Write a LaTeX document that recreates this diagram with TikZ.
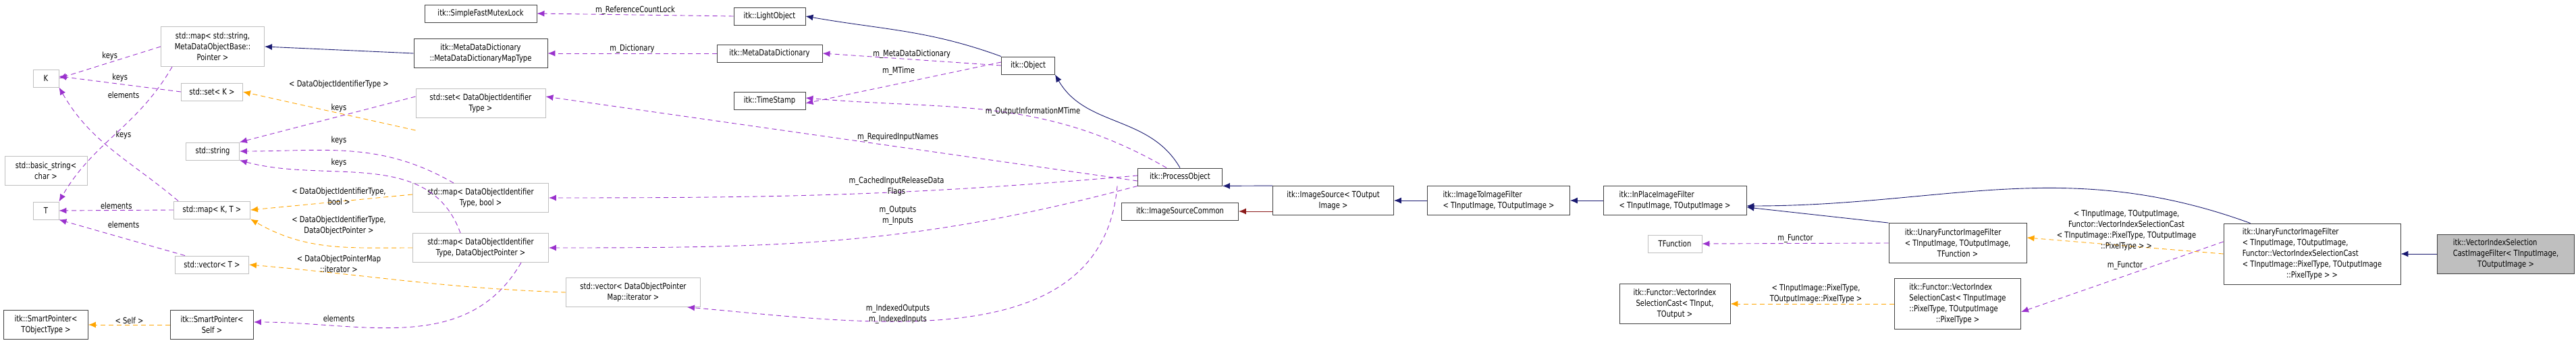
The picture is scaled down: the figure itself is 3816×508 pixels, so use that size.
\documentclass[tikz,border=0pt]{standalone}
\usepackage{fontspec}
\setmainfont{DejaVu Sans}[FakeStretch=0.80]
\usetikzlibrary{arrows.meta,positioning}
\definecolor{edgepurple}{RGB}{154,50,205}
\definecolor{edgeorange}{RGB}{255,165,0}
\definecolor{edgenavy}{RGB}{25,25,112}
\definecolor{edgered}{RGB}{139,26,26}
\definecolor{boxgrey}{RGB}{191,191,191}
\tikzset{
    cls/.style={draw=black!75, line width=0.9pt, fill=white, align=center, inner sep=2pt,
        font=\fontsize{12.5}{16}\selectfont},
    ext/.style={cls, draw=boxgrey},
    me/.style={cls, fill=boxgrey},
    lbl/.style={align=center, inner sep=0pt, font=\fontsize{12.5}{16}\selectfont},
    usage/.style={draw=edgepurple, dashed, dash pattern=on 7pt off 5pt, line width=0.9pt, -{Latex[length=11pt,width=9pt]}},
    templ/.style={draw=edgeorange, dashed, dash pattern=on 7pt off 5pt, line width=0.9pt, -{Latex[length=11pt,width=9pt]}},
    inherit/.style={draw=edgenavy, line width=0.9pt, -{Latex[length=11pt,width=9pt]}},
    privinh/.style={draw=edgered, line width=0.9pt, -{Latex[length=11pt,width=9pt]}}
}
\begin{document}
\begin{tikzpicture}[x=1pt, y=-1pt]
    \useasboundingbox (0,0) rectangle (3816,508);

    % left column
    \node[ext, minimum width=38, minimum height=26] (K) at (68,116) {K};
    \node[ext, minimum width=122, minimum height=43] (bstr) at (68,253) {std::basic\_string<\\char >};
    \node[ext, minimum width=38, minimum height=26] (T) at (68,312) {T};
    \node[cls, minimum width=125, minimum height=43] (spobj) at (68,481) {itk::SmartPointer<\\TObjectType >};

    % std containers
    \node[ext, minimum width=153, minimum height=59] (mapstr) at (315,69) {std::map< std::string,\\MetaDataObjectBase::\\Pointer >};
    \node[ext, minimum width=91, minimum height=26] (setK) at (314,136) {std::set< K >};
    \node[ext, minimum width=79, minimum height=26] (str) at (315,224) {std::string};
    \node[ext, minimum width=113, minimum height=26] (mapKT) at (314,311) {std::map< K, T >};
    \node[ext, minimum width=109, minimum height=26] (vecT) at (314,392) {std::vector< T >};
    \node[cls, minimum width=123, minimum height=43] (spself) at (314,481) {itk::SmartPointer<\\Self >};

    % instantiated containers
    \node[cls, minimum width=166, minimum height=26] (mutex) at (712,20) {itk::SimpleFastMutexLock};
    \node[cls, minimum width=198, minimum height=43] (dictmap) at (712,79) {itk::MetaDataDictionary\\::MetaDataDictionaryMapType};
    \node[ext, minimum width=192, minimum height=43] (setid) at (712,153) {std::set< DataObjectIdentifier\\Type >};
    \node[ext, minimum width=201, minimum height=43] (mapbool) at (712,293) {std::map< DataObjectIdentifier\\Type, bool >};
    \node[ext, minimum width=201, minimum height=43] (mapptr) at (712,367) {std::map< DataObjectIdentifier\\Type, DataObjectPointer >};
    \node[ext, minimum width=199, minimum height=43] (veciter) at (938,433) {std::vector< DataObjectPointer\\Map::iterator >};

    % itk core
    \node[cls, minimum width=106, minimum height=26] (light) at (1140,24) {itk::LightObject};
    \node[cls, minimum width=156, minimum height=26] (dict) at (1140,79) {itk::MetaDataDictionary};
    \node[cls, minimum width=106, minimum height=26] (stamp) at (1140,149) {itk::TimeStamp};
    \node[cls, minimum width=79, minimum height=26] (object) at (1523,97) {itk::Object};
    \node[cls, minimum width=125, minimum height=26] (process) at (1748,262) {itk::ProcessObject};
    \node[cls, minimum width=173, minimum height=26] (common) at (1748,313) {itk::ImageSourceCommon};

    % filter chain
    \node[cls, minimum width=179, minimum height=43] (source) at (1975,297) {itk::ImageSource< TOutput\\Image >};
    \node[cls, minimum width=211, minimum height=43, align=left] (i2i) at (2220,297) {itk::ImageToImageFilter\\< TInputImage, TOutputImage >};
    \node[cls, minimum width=212, minimum height=43, align=left] (inplace) at (2481,297) {itk::InPlaceImageFilter\\< TInputImage, TOutputImage >};
    \node[ext, minimum width=80, minimum height=26] (tfunc) at (2481,361) {TFunction};
    \node[cls, minimum width=164, minimum height=59] (castio) at (2481,450) {itk::Functor::VectorIndex\\SelectionCast< TInput,\\TOutput >};
    \node[cls, minimum width=204, minimum height=59, align=left] (unary) at (2900,360) {itk::UnaryFunctorImageFilter\\< TInputImage, TOutputImage,\\\hfil TFunction >};
    \node[cls, minimum width=187, minimum height=75, align=left] (castpx) at (2900,450) {itk::Functor::VectorIndex\\SelectionCast< TInputImage\\::PixelType, TOutputImage\\\hfil ::PixelType >};
    \node[cls, minimum width=262, minimum height=90, align=left] (unarycast) at (3425,376) {itk::UnaryFunctorImageFilter\\< TInputImage, TOutputImage,\\Functor::VectorIndexSelectionCast\\< TInputImage::PixelType, TOutputImage\\\hfil ::PixelType > >};
    \node[me, minimum width=203, minimum height=58, align=left] (visc) at (3712,376) {itk::VectorIndexSelection\\CastImageFilter< TInputImage,\\\hfil TOutputImage >};

    % inheritance
    \draw[inherit] (dictmap.west) -- (mapstr.east);
    \draw[inherit] (object.north west) to[out=160, in=-10] (light.east);
    \draw[inherit] (process.north) to[out=120, in=-60] (object.south east);
    \draw[inherit] (source.north west) -- (process.south east);
    \draw[privinh] (source.west |- common.east) -- (common.east);
    \draw[inherit] (i2i.west) -- (source.east);
    \draw[inherit] (inplace.west) -- (i2i.east);
    \draw[inherit] (unary.north west) -- ([yshift=12]inplace.south east);
    \draw[inherit] ([xshift=40]unarycast.north west) to[out=160, in=0] ([yshift=-8]inplace.east);
    \draw[inherit] (visc.west) -- (unarycast.east);

    % members
    \draw[usage] (mapstr.west) -- (K.east) node[lbl, pos=0.5, above=3pt] {keys};
    \draw[usage] (setK.west) -- ([yshift=3]K.east) node[lbl, pos=0.5, above=3pt] {keys};
    \draw[usage] ([xshift=-50]mapKT.north) to[out=140, in=-60] (K.south east);
    \node[lbl] at (183,200) {keys};
    \draw[usage] ([xshift=-60]mapstr.south) to[out=-120, in=60] (T.north east);
    \node[lbl] at (183,141) {elements};
    \draw[usage] (mapKT.west) -- (T.east) node[lbl, pos=0.5, above=1pt] {elements};
    \draw[usage] ([xshift=-40]vecT.north) -- (T.south east);
    \node[lbl] at (183,333) {elements};
    \draw[usage] ([yshift=10]setid.west) -- (str.north east);
    \node[lbl] at (502,160) {keys};
    \draw[usage] ([xshift=-40]mapbool.north) to[out=150, in=0] (str.east);
    \node[lbl] at (502,208) {keys};
    \draw[usage] ([xshift=-30]mapptr.north) to[out=110, in=-15] (str.south east);
    \node[lbl] at (502,241) {keys};
    \draw[usage] ([xshift=60]mapptr.south) to[out=-120, in=0] ([yshift=4]spself.east);
    \node[lbl] at (502,472) {elements};

    \draw[usage] (light.west) -- (mutex.east) node[lbl, pos=0.5, above=0pt] {m\_ReferenceCountLock};
    \draw[usage] (dict.west) -- (dictmap.east) node[lbl, pos=0.5, above=0pt] {m\_Dictionary};
    \draw[usage] (object.west) -- (dict.east) node[lbl, pos=0.5, above=1pt] {m\_MetaDataDictionary};
    \draw[usage] ([yshift=5]object.west) -- ([yshift=-4]stamp.east);
    \node[lbl] at (1331,105) {m\_MTime};
    \draw[usage] ([xshift=-20]process.north) to[out=150, in=-5] ([yshift=4]stamp.east);
    \node[lbl] at (1530,165) {m\_OutputInformationMTime};
    \draw[usage] ([yshift=-6]process.west) -- ([yshift=10]setid.east);
    \node[lbl] at (1330,203) {m\_RequiredInputNames};
    \draw[usage] ([yshift=2]process.west) to[out=-175, in=0] (mapbool.east);
    \node[lbl] at (1328,276) {m\_CachedInputReleaseData\\Flags};
    \draw[usage] (process.south west) to[out=-165, in=0] (mapptr.east);
    \node[lbl] at (1330,319) {m\_Outputs\\m\_Inputs};
    \draw[usage] ([xshift=-30]process.south west) to[out=-95, in=-5] ([xshift=-20]veciter.south east);
    \node[lbl] at (1330,465) {m\_IndexedOutputs\\m\_IndexedInputs};
    \draw[usage] (unary.west) -- (tfunc.east) node[lbl, pos=0.5, above=1pt] {m\_Functor};
    \draw[usage] ([yshift=18]unarycast.west) -- ([yshift=-12]castpx.east);
    \node[lbl] at (3148,393) {m\_Functor};

    % template instances
    \draw[templ] ([yshift=-40]setid.west) -- (setK.east);
    \node[lbl] at (502,125) {< DataObjectIdentifierType >};
    \draw[templ] ([yshift=5]mapbool.west) -- (mapKT.east);
    \node[lbl] at (502,291) {< DataObjectIdentifierType,\\bool >};
    \draw[templ] (mapptr.west) to[out=180, in=-30] (mapKT.south east);
    \node[lbl] at (502,334) {< DataObjectIdentifierType,\\DataObjectPointer >};
    \draw[templ] (veciter.west) to[out=178, in=-5] (vecT.east);
    \node[lbl] at (502,391) {< DataObjectPointerMap\\::iterator >};
    \draw[templ] (spself.west) -- (spobj.east) node[lbl, pos=0.5, above=1pt] {< Self >};
    \draw[templ] (unarycast.west) -- ([yshift=8]unary.east);
    \node[lbl] at (3150,341) {< TInputImage, TOutputImage,\\Functor::VectorIndexSelectionCast\\< TInputImage::PixelType, TOutputImage\\::PixelType > >};
    \draw[templ] (castpx.west) -- (castio.east);
    \node[lbl] at (2690,435) {< TInputImage::PixelType,\\TOutputImage::PixelType >};
\end{tikzpicture}
\end{document}
